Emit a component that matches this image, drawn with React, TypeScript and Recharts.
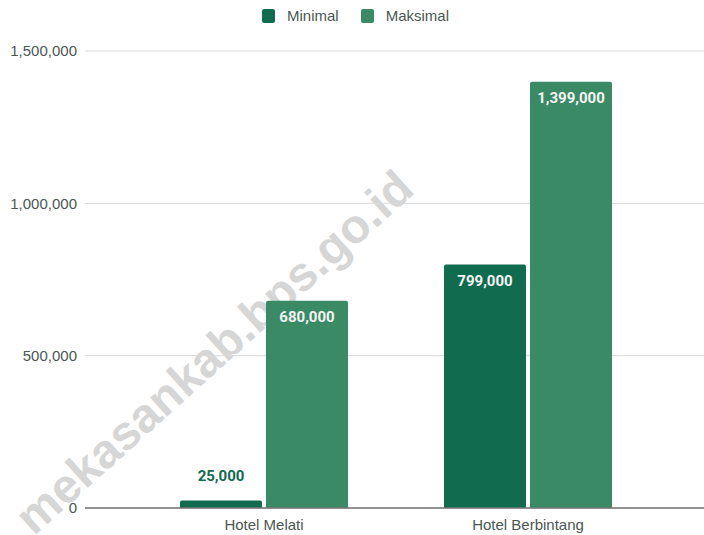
import React from "react";
import { BarChart, Bar, XAxis, YAxis, CartesianGrid, LabelList } from "recharts";

const categories = ["Hotel Melati", "Hotel Berbintang"];
const minimalValues = [25000, 799000];
const maksimalValues = [680000, 1399000];
const yTicks = [0, 500000, 1000000, 1500000];

const series = [
	{ key: "minimal", name: "Minimal", color: "#116b4e" },
	{ key: "maksimal", name: "Maksimal", color: "#3a8a66" },
];

const data = categories.map((c, i) => ({ name: c, minimal: minimalValues[i], maksimal: maksimalValues[i] }));

const textColor = "#4b5753";
const fmt = (v: number) => v.toLocaleString("en-US");

// value label: inside the bar top when it fits, above it otherwise
const makeLabel = (color: string) => (props: any) => {
	const { x, y, width, height, value } = props;
	const inside = height > 40;
	return (
		<text
			x={x + width / 2}
			y={inside ? y + 16 : y - 24}
			textAnchor="middle"
			dominantBaseline="central"
			fill={inside ? "#f4f4f4" : color}
			style={{ fontFamily: "Roboto", fontWeight: 700, fontSize: 15 }}
		>
			{fmt(value)}
		</text>
	);
};

const Legend = () => (
	<div style={{ position: "absolute", left: 262, top: 7, display: "flex", alignItems: "center", fontFamily: "'Liberation Sans', Arial", fontSize: 15, color: textColor }}>
		{series.map((s, i) => (
			<div key={s.key} style={{ display: "flex", alignItems: "center", marginRight: i === 0 ? 22 : 0 }}>
				<div style={{ width: 13, height: 14, background: s.color, borderRadius: 2, marginRight: 12 }} />
				<span>{s.name}</span>
			</div>
		))}
	</div>
);

const App = () => {
	return (
		<div style={{ position: "absolute", left: 0, top: 0, width: 704, height: 535, background: "#fff", overflow: "hidden" }}>
			<svg width={704} height={535} style={{ position: "absolute", left: 0, top: 0 }}>
				<text
					x={214}
					y={352}
					textAnchor="middle"
					dominantBaseline="central"
					transform="rotate(-42 214 352)"
					fill="#d6d6d6"
					style={{ fontFamily: "'Liberation Sans', Arial", fontWeight: 700, fontSize: 48 }}
				>
					mekasankab.bps.go.id
				</text>
			</svg>
			<div style={{ position: "absolute", left: 0, top: 0 }}>
				<BarChart width={704} height={535} data={data} margin={{ top: 51, right: 0, bottom: 0, left: 0 }} barGap={4}>
					<CartesianGrid vertical={false} stroke="#d9d9d9" />
					<XAxis
						dataKey="name"
						height={27}
						padding={{ left: 47, right: 44 }}
						tickLine={false}
						tickMargin={5}
						axisLine={{ stroke: "#757575", strokeWidth: 1.5 }}
						tick={{ fill: textColor, fontSize: 15, fontFamily: "'Liberation Sans', Arial" }}
					/>
					<YAxis
						width={85}
						domain={[0, 1500000]}
						ticks={yTicks}
						axisLine={false}
						tickLine={false}
						tickFormatter={fmt}
						tick={{ fill: textColor, fontSize: 15, fontFamily: "'Liberation Sans', Arial" }}
					/>
					{series.map((s) => (
						<Bar key={s.key} dataKey={s.key} name={s.name} fill={s.color} barSize={82} radius={[2, 2, 0, 0]} isAnimationActive={false}>
							<LabelList dataKey={s.key} content={makeLabel(s.color)} />
						</Bar>
					))}
				</BarChart>
			</div>
			<Legend />
		</div>
	);
};

export default App;
